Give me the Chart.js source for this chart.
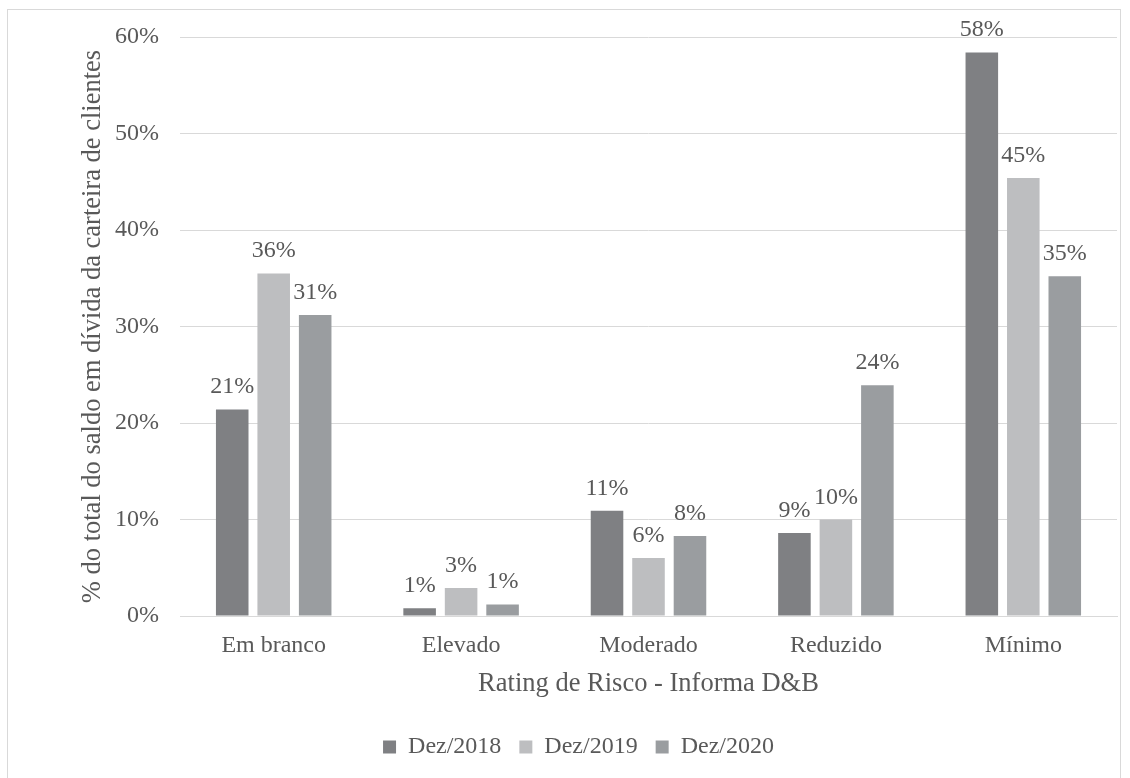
<!DOCTYPE html>
<html>
<head>
<meta charset="utf-8">
<script src="https://cdn.jsdelivr.net/npm/chart.js@4.4.1/dist/chart.umd.min.js"></script>
<style>
  html, body { margin: 0; padding: 0; background: #fff; overflow: hidden; }
  #wrap { position: relative; width: 1130px; height: 778px; }
  #frame { position: absolute; left: 7px; top: 9px; width: 1114px; height: 800px; border: 1px solid #d9d9d9; box-sizing: border-box; pointer-events: none; }
  canvas { position: absolute; left: 0; top: 0; }
</style>
</head>
<body>
<div id="wrap">
  <canvas id="c" width="1130" height="778"></canvas>
  <div id="frame"></div>
</div>
<script>
const categories = ["Em branco", "Elevado", "Moderado", "Reduzido", "Mínimo"];
const seriesNames = ["Dez/2018", "Dez/2019", "Dez/2020"];
const dez2018 = [21.4, 0.8, 10.9, 8.6, 58.4];
const dez2019 = [35.5, 2.9, 6.0, 10.0, 45.4];
const dez2020 = [31.2, 1.2, 8.3, 23.9, 35.2];
const yTicks = [0, 10, 20, 30, 40, 50, 60];
const colors = ["#7f8083", "#bdbec0", "#9a9da0"];

const FONT = "'Liberation Serif', 'Times New Roman', serif";
const TXT = "#595959";
const FS = 24;
const FT = 26.5;

const labelPlugin = {
  id: 'barLabels',
  afterDatasetsDraw(chart) {
    const ctx = chart.ctx;
    ctx.save();
    ctx.font = FS + "px " + FONT;
    ctx.fillStyle = TXT;
    ctx.textAlign = 'center';
    ctx.textBaseline = 'alphabetic';
    chart.data.datasets.forEach((ds, i) => {
      const meta = chart.getDatasetMeta(i);
      meta.data.forEach((bar, j) => {
        ctx.fillText(Math.round(ds.data[j]) + '%', bar.x, bar.y - 16);
      });
    });
    ctx.restore();
  }
};

new Chart(document.getElementById('c'), {
  type: 'bar',
  data: {
    labels: categories,
    datasets: [dez2018, dez2019, dez2020].map((d, i) => ({
      label: seriesNames[i],
      data: d,
      backgroundColor: colors[i],
      borderWidth: 0,
      categoryPercentage: 0.664,
      barPercentage: 0.785
    }))
  },
  options: {
    responsive: false,
    animation: false,
    devicePixelRatio: 1,
    layout: { padding: { left: 40, right: 13, top: 37, bottom: 9 } },
    plugins: {
      tooltip: { enabled: false },
      legend: {
        position: 'bottom',
        labels: {
          font: { family: FONT, size: FS },
          color: TXT,
          boxWidth: 13,
          boxHeight: 13,
          padding: 18
        }
      }
    },
    scales: {
      x: {
        grid: { display: false, drawTicks: false },
        border: { display: true, color: '#d9d9d9', width: 1 },
        ticks: { font: { family: FONT, size: FS }, color: TXT, padding: 15 },
        title: {
          display: true,
          text: 'Rating de Risco - Informa D&B',
          font: { family: FONT, size: FT },
          color: TXT,
          padding: { top: 0, bottom: 17 }
        },
        afterFit(scale) { scale.height = 101; }
      },
      y: {
        min: 0,
        max: 60,
        afterBuildTicks(scale) { scale.ticks = yTicks.map(v => ({ value: v })); },
        grid: { color: '#d9d9d9', lineWidth: 1, drawTicks: false },
        border: { display: false },
        ticks: {
          font: { family: FONT, size: FS },
          color: TXT,
          padding: 21,
          callback: v => v + '%'
        },
        title: {
          display: true,
          text: '% do total do saldo em dívida da carteira de clientes',
          font: { family: FONT, size: FT },
          color: TXT,
          padding: { top: 37, bottom: 0 }
        },
        afterFit(scale) { scale.width = 140; }
      }
    }
  },
  plugins: [labelPlugin]
});
</script>
</body>
</html>
